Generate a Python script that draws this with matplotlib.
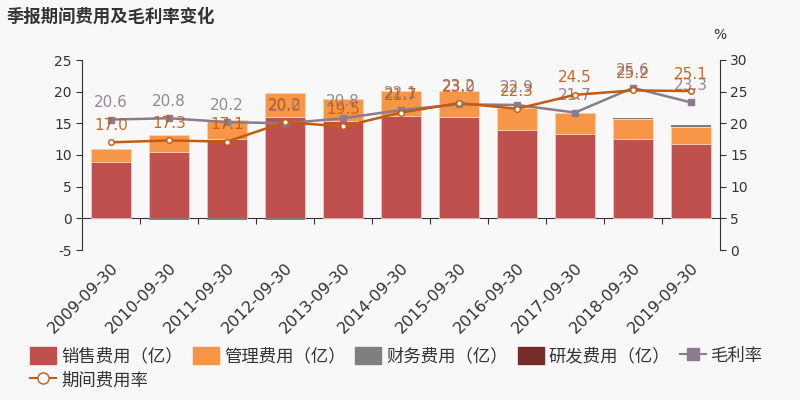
import numpy as np
import matplotlib
matplotlib.use('Agg')
import matplotlib.pyplot as plt
from matplotlib.lines import Line2D
from matplotlib.patches import Patch

plt.rcParams['font.family'] = ['DejaVu Sans', 'Noto Sans CJK SC']
plt.rcParams['axes.unicode_minus'] = False

dates = ['2009-09-30', '2010-09-30', '2011-09-30', '2012-09-30', '2013-09-30',
         '2014-09-30', '2015-09-30', '2016-09-30', '2017-09-30', '2018-09-30',
         '2019-09-30']
sales = [8.9, 10.5, 12.6, 16.0, 15.3, 16.2, 16.0, 14.0, 13.3, 12.5, 11.8]
admin = [2.0, 2.6, 3.0, 3.8, 3.6, 3.9, 4.1, 3.5, 3.4, 3.2, 2.7]
finance = [0.0, -0.2, -0.2, -0.2, 0.0, 0.0, 0.0, 0.0, 0.0, 0.1, 0.2]
rnd = [0, 0, 0, 0, 0, 0, 0, 0, 0, 0, 0]
gross = [20.6, 20.8, 20.2, 20.0, 20.8, 22.1, 23.0, 22.9, 21.7, 25.6, 23.3]
period = [17.0, 17.3, 17.1, 20.2, 19.5, 21.7, 23.2, 22.3, 24.5, 25.2, 25.1]

c_sales = '#c0504d'
c_admin = '#f79646'
c_fin = '#7f7f7f'
c_rnd = '#772c2a'
c_gross = '#8c7b8e'
c_period = '#c55a11'
bg = '#f8f8f8'
txt = '#333333'

fig = plt.figure(figsize=(8, 4), dpi=100, facecolor=bg)
ax = fig.add_axes([0.1025, 0.375, 0.7975, 0.475], facecolor=bg)
ax2 = ax.twinx()

x = np.arange(len(dates))
w = 0.7
sales = np.array(sales)
admin = np.array(admin)
finance = np.array(finance)
ax.bar(x, sales, w, color=c_sales, edgecolor='#f2c4c4', linewidth=0.6, zorder=2)
ax.bar(x, admin, w, bottom=sales, color=c_admin, edgecolor='#f9d2b0', linewidth=0.6, zorder=2)
fin_bottom = np.where(finance > 0, sales + admin, 0)
ax.bar(x, finance, w, bottom=fin_bottom, color=c_fin, linewidth=0, zorder=2)
ax.bar(x, rnd, w, bottom=sales + admin, color=c_rnd, linewidth=0, zorder=2)

ax.set_xlim(-0.5, len(dates) - 0.5)
ax.set_ylim(-5, 25)
ax.set_yticks(np.arange(-5, 26, 5))
ax.set_xticks(x)
ax.set_xticklabels(dates, rotation=45, ha='right', rotation_mode='anchor',
                   fontsize=11.5, color=txt)
ax.tick_params(axis='x', length=0, pad=7)
ax.tick_params(axis='y', labelsize=10, colors=txt, length=4)
for s in ['top', 'right', 'bottom']:
    ax.spines[s].set_visible(False)
ax.spines['left'].set_color(txt)

# zero line with ticks between categories
zero = ax.secondary_xaxis(5 / 30)
zero.set_xticks(np.arange(0.5, len(dates) - 0.5, 1))
zero.set_xticklabels([])
zero.tick_params(length=4, color=txt)
zero.spines['bottom'].set_color(txt)

ax2.plot(x, gross, color=c_gross, lw=1.8, marker='s', ms=4, zorder=3)
ax2.plot(x, period, color=c_period, lw=1.8, marker='o', ms=4,
         markerfacecolor='white', markeredgecolor=c_period, zorder=4)
for xi, g in zip(x, gross):
    ax2.annotate(f'{g:.1f}', (xi, g), xytext=(0, 9), textcoords='offset points',
                 ha='center', fontsize=11, color=c_gross, alpha=0.9)
for xi, p in zip(x, period):
    ax2.annotate(f'{p:.1f}', (xi, p), xytext=(0, 9), textcoords='offset points',
                 ha='center', fontsize=11, color=c_period, alpha=0.9)
ax2.set_ylim(0, 30)
ax2.set_yticks(np.arange(0, 31, 5))
ax2.tick_params(axis='y', labelsize=10, colors=txt, length=4)
for s in ['top', 'left', 'bottom']:
    ax2.spines[s].set_visible(False)
ax2.spines['right'].set_color(txt)
fig.text(0.9, 0.895, '%', ha='center', va='bottom', fontsize=10, color=txt)

fig.text(0.008, 0.945, '季报期间费用及毛利率变化', fontsize=12.5, fontweight='bold',
         color=txt, family=['Noto Sans CJK SC'])

handles = [
    Patch(color=c_sales, label='销售费用（亿）'),
    Line2D([], [], color=c_period, lw=1.5, marker='o', ms=8, markerfacecolor='white',
           label='期间费用率'),
    Patch(color=c_admin, label='管理费用（亿）'),
    Patch(color=c_fin, label='财务费用（亿）'),
    Patch(color=c_rnd, label='研发费用（亿）'),
    Line2D([], [], color=c_gross, lw=1.5, marker='s', ms=8, label='毛利率'),
]
leg = fig.legend(handles=handles, ncol=5, loc='lower left', bbox_to_anchor=(0.025, 0.0),
                 frameon=False, fontsize=12.5, handlelength=1.5, handleheight=1.1,
                 handletextpad=0.3, columnspacing=0.55, labelspacing=0.35,
                 borderaxespad=0.2)
for t in leg.get_texts():
    t.set_color(txt)

fig.savefig('out.png', dpi=100, facecolor=bg)
